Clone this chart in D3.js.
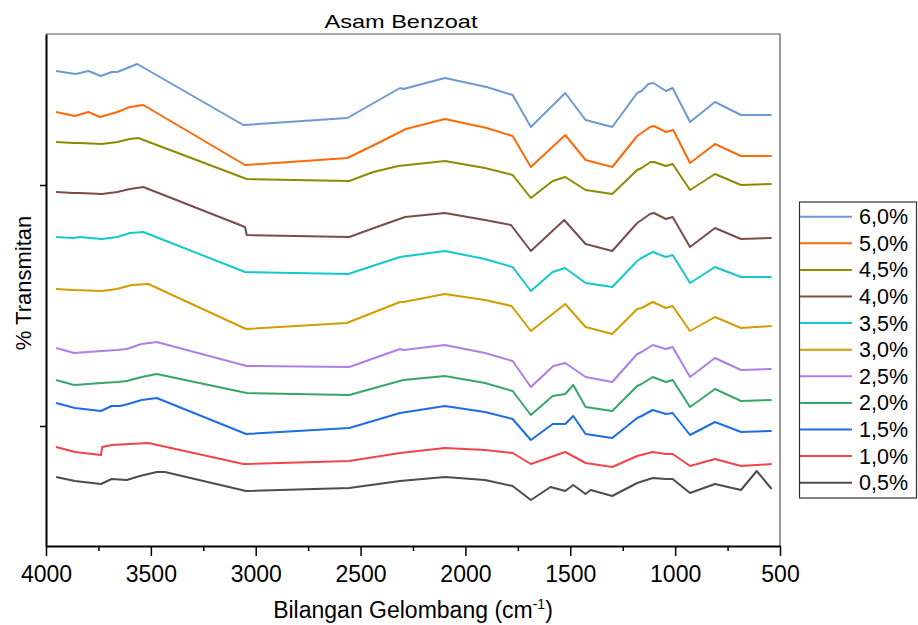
<!DOCTYPE html>
<html>
<head>
<meta charset="utf-8">
<script src="https://cdn.jsdelivr.net/npm/d3@7/dist/d3.min.js"></script>
<style>
  body { margin: 0; background: #fff; }
  svg { display: block; font-family: 'Liberation Sans', Arial, sans-serif; }
</style>
</head>
<body>
<div id="chart"></div>
<script>
// Spectra: [wavenumber (cm-1), transmittance (a.u., offset per trace)]
const s60 = [[3952,475],[3858,472],[3798,475],[3738,470],[3687,474],[3660,474],[3565,482],[3059,421],[2563,428],[2312,458],[2296,457],[2098,468],[1899,459],[1775,451],[1688,419],[1524,453],[1427,426],[1300,419],[1181,453],[1160,455],[1128,462],[1104,463],[1044,455],[1012,458],[929,424],[810,444],[686,431],[540,431]];
const s50 = [[3952,434],[3862,430],[3798,434],[3743,429],[3660,434],[3600,439],[3536,441],[3051,381],[2563,388],[2416,403],[2284,417],[2098,427],[1899,418],[1775,410],[1688,379],[1524,411],[1427,386],[1300,379],[1181,410],[1160,413],[1120,419],[1101,420],[1044,414],[1009,416],[929,383],[810,402],[686,390],[540,390]];
const s45 = [[3952,404],[3870,403],[3838,403],[3734,402],[3660,404],[3600,407],[3560,408],[3043,367],[2554,365],[2439,374],[2320,380],[2098,385],[1907,378],[1775,371],[1688,348],[1584,365],[1524,369],[1427,356],[1300,352],[1181,376],[1160,378],[1117,384],[1101,384],[1044,380],[1012,382],[929,356],[810,372],[686,361],[540,362]];
const s40 = [[3952,354],[3870,353],[3838,353],[3734,352],[3660,354],[3600,357],[3536,359],[3051,319],[3043,311],[2554,309],[2423,319],[2288,329],[2098,333],[1907,326],[1783,321],[1688,295],[1529,326],[1427,302],[1300,295],[1181,323],[1160,326],[1120,332],[1101,333],[1044,327],[1012,329],[929,299],[810,318],[686,307],[540,308]];
const s35 = [[3952,309],[3870,308],[3838,309],[3734,307],[3660,309],[3600,313],[3536,314],[3051,274],[2559,272],[2312,289],[2098,295],[1907,287],[1775,279],[1688,255],[1584,274],[1525,278],[1427,263],[1300,259],[1181,285],[1160,288],[1107,294],[1044,289],[1012,291],[929,263],[810,279],[686,269],[540,269]];
const s30 = [[3952,257],[3870,256],[3734,255],[3663,257],[3591,261],[3512,262],[3046,217],[2566,223],[2312,244],[2296,244],[2098,252],[1907,246],[1780,240],[1688,215],[1524,242],[1427,219],[1300,212],[1181,237],[1160,238],[1107,244],[1044,238],[1012,240],[929,215],[810,229],[686,218],[540,220]];
const s25 = [[3952,198],[3866,193],[3734,195],[3660,196],[3615,197],[3544,202],[3472,204],[3043,180],[2554,179],[2312,197],[2296,196],[2098,201],[1907,193],[1775,185],[1688,159],[1581,180],[1524,183],[1427,169],[1300,164],[1181,192],[1160,194],[1107,201],[1044,197],[1012,199],[929,169],[810,188],[686,176],[540,177]];
const s20 = [[3952,166],[3866,161],[3734,163],[3660,164],[3615,165],[3544,169],[3472,172],[3043,153],[2554,151],[2296,166],[2098,170],[1907,163],[1775,155],[1688,131],[1584,150],[1524,152],[1486,161],[1427,139],[1300,135],[1181,160],[1160,162],[1107,169],[1044,164],[1012,166],[929,139],[810,157],[686,145],[540,146]];
const s15 = [[3952,143],[3862,138],[3738,135],[3687,140],[3647,140],[3608,142],[3544,146],[3472,148],[3046,112],[2554,118],[2312,133],[2098,140],[1907,134],[1775,127],[1688,106],[1584,122],[1524,122],[1486,130],[1427,112],[1300,108],[1181,128],[1160,130],[1107,136],[1044,132],[1012,133],[929,111],[810,124],[686,114],[540,115]];
const s10 = [[3952,99],[3862,94],[3738,91],[3732,99],[3687,101],[3600,102],[3512,103],[3059,82],[2554,85],[2312,93],[2098,98],[1907,96],[1775,93],[1688,82],[1524,94],[1427,83],[1300,79],[1181,90],[1107,94],[1044,92],[1012,92],[929,80],[810,87],[686,80],[540,82]];
const s05 = [[3952,69],[3862,65],[3738,62],[3687,67],[3615,66],[3552,70],[3472,74],[3433,74],[3046,55],[2554,58],[2312,65],[2098,69],[1907,66],[1775,60],[1688,46],[1594,59],[1524,55],[1486,61],[1427,52],[1403,56],[1300,50],[1181,63],[1107,68],[1044,67],[1012,67],[929,53],[810,62],[686,56],[611,75],[540,57]];

// Legend order (top to bottom)
const labels = ['6,0%', '5,0%', '4,5%', '4,0%', '3,5%', '3,0%', '2,5%', '2,0%', '1,5%', '1,0%', '0,5%'];
const series = [s60, s50, s45, s40, s35, s30, s25, s20, s15, s10, s05];
const colors = ['#6b9bd2', '#ff6a08', '#8c8c00', '#7a4c4c', '#14c8cc', '#d29d00', '#ae7fe6', '#38a66b', '#1d6de6', '#f2444b', '#4d4d4d'];

// Axis settings
const xDomain = [4000, 500];
const yDomain = [0, 512];
const xMajor = [4000, 3500, 3000, 2500, 2000, 1500, 1000, 500];
const xMinor = [3750, 3250, 2750, 2250, 1750, 1250, 750];
const yTicks = [120, 361];

const width = 918;
const height = 625;
const margin = { top: 34, right: 138, bottom: 79, left: 46 };

const svg = d3
  .select('#chart')
  .append('svg')
  .attr('width', width)
  .attr('height', height);

const x = d3
  .scaleLinear()
  .domain(xDomain)
  .range([margin.left, width - margin.right]);

const y = d3
  .scaleLinear()
  .domain(yDomain)
  .range([height - margin.bottom, margin.top]);

// Frame (top and right)
svg
  .append('path')
  .attr('d', `M${margin.left},${margin.top}H${width - margin.right}V${height - margin.bottom}`)
  .attr('fill', 'none')
  .attr('stroke', '#555')
  .attr('stroke-width', 1.2);

// Line generator
const line = d3
  .line()
  .x((d) => x(d[0]))
  .y((d) => y(d[1]));

svg
  .append('g')
  .selectAll('path')
  .data(series)
  .enter()
  .append('path')
  .attr('fill', 'none')
  .attr('stroke', (d, i) => colors[i])
  .attr('stroke-width', 2)
  .attr('stroke-linejoin', 'round')
  .attr('d', line);

// X axis: minor ticks first, then major ticks with labels
svg
  .append('g')
  .attr('transform', `translate(0,${height - margin.bottom})`)
  .call(d3.axisBottom(x).tickValues(xMinor).tickSize(5).tickFormat(''))
  .call((g) => g.select('.domain').remove())
  .selectAll('line')
  .attr('stroke-width', 1.5);

const xAxis = svg
  .append('g')
  .attr('transform', `translate(0,${height - margin.bottom})`)
  .call(d3.axisBottom(x).tickValues(xMajor).tickSize(10).tickSizeOuter(0).tickFormat(d3.format('d')));

xAxis.select('.domain').attr('stroke-width', 2);
xAxis.selectAll('line').attr('stroke-width', 1.5);
xAxis
  .selectAll('text')
  .attr('y', 36)
  .attr('dy', 0)
  .style('font-size', '23px')
  .style('font-family', "'Liberation Sans', Arial, sans-serif")
  .attr('fill', '#000');

// Y axis (unlabelled ticks)
const yAxis = svg
  .append('g')
  .attr('transform', `translate(${margin.left},0)`)
  .call(d3.axisLeft(y).tickValues(yTicks).tickSize(6).tickSizeOuter(0).tickFormat(''));

yAxis.select('.domain').attr('stroke-width', 2);
yAxis.selectAll('line').attr('stroke-width', 1.5);

// Title
svg
  .append('text')
  .attr('x', 401)
  .attr('y', 28)
  .attr('text-anchor', 'middle')
  .attr('textLength', 153)
  .attr('lengthAdjust', 'spacingAndGlyphs')
  .style('font-size', '19px')
  .text('Asam Benzoat');

// X axis label with superscript
const xLabel = svg
  .append('text')
  .attr('x', 413)
  .attr('y', 618)
  .attr('text-anchor', 'middle')
  .style('font-size', '23px');

xLabel.append('tspan').text('Bilangan Gelombang (cm');
xLabel.append('tspan').attr('dy', -9).style('font-size', '14px').text('-1');
xLabel.append('tspan').attr('dy', 9).text(')');

// Y axis label
svg
  .append('text')
  .attr('transform', 'rotate(-90)')
  .attr('x', -283)
  .attr('y', 31)
  .attr('text-anchor', 'middle')
  .style('font-size', '22px')
  .text('% Transmitan');

// Legend
const legend = svg.append('g').attr('transform', 'translate(799,202)');

legend
  .append('rect')
  .attr('x', 0.5)
  .attr('y', 0)
  .attr('width', 117)
  .attr('height', 296)
  .attr('fill', '#fff')
  .attr('stroke', '#333')
  .attr('stroke-width', 1.2);

const rows = legend
  .selectAll('.row')
  .data(labels)
  .enter()
  .append('g')
  .attr('class', 'row')
  .attr('transform', (d, i) => `translate(0,${14.7 + i * 26.6})`);

rows
  .append('line')
  .attr('x1', 1)
  .attr('x2', 53)
  .attr('stroke', (d, i) => colors[i])
  .attr('stroke-width', 2);

rows
  .append('text')
  .attr('x', 60)
  .attr('y', 7.5)
  .style('font-size', '21.5px')
  .text((d) => d);
</script>
</body>
</html>
